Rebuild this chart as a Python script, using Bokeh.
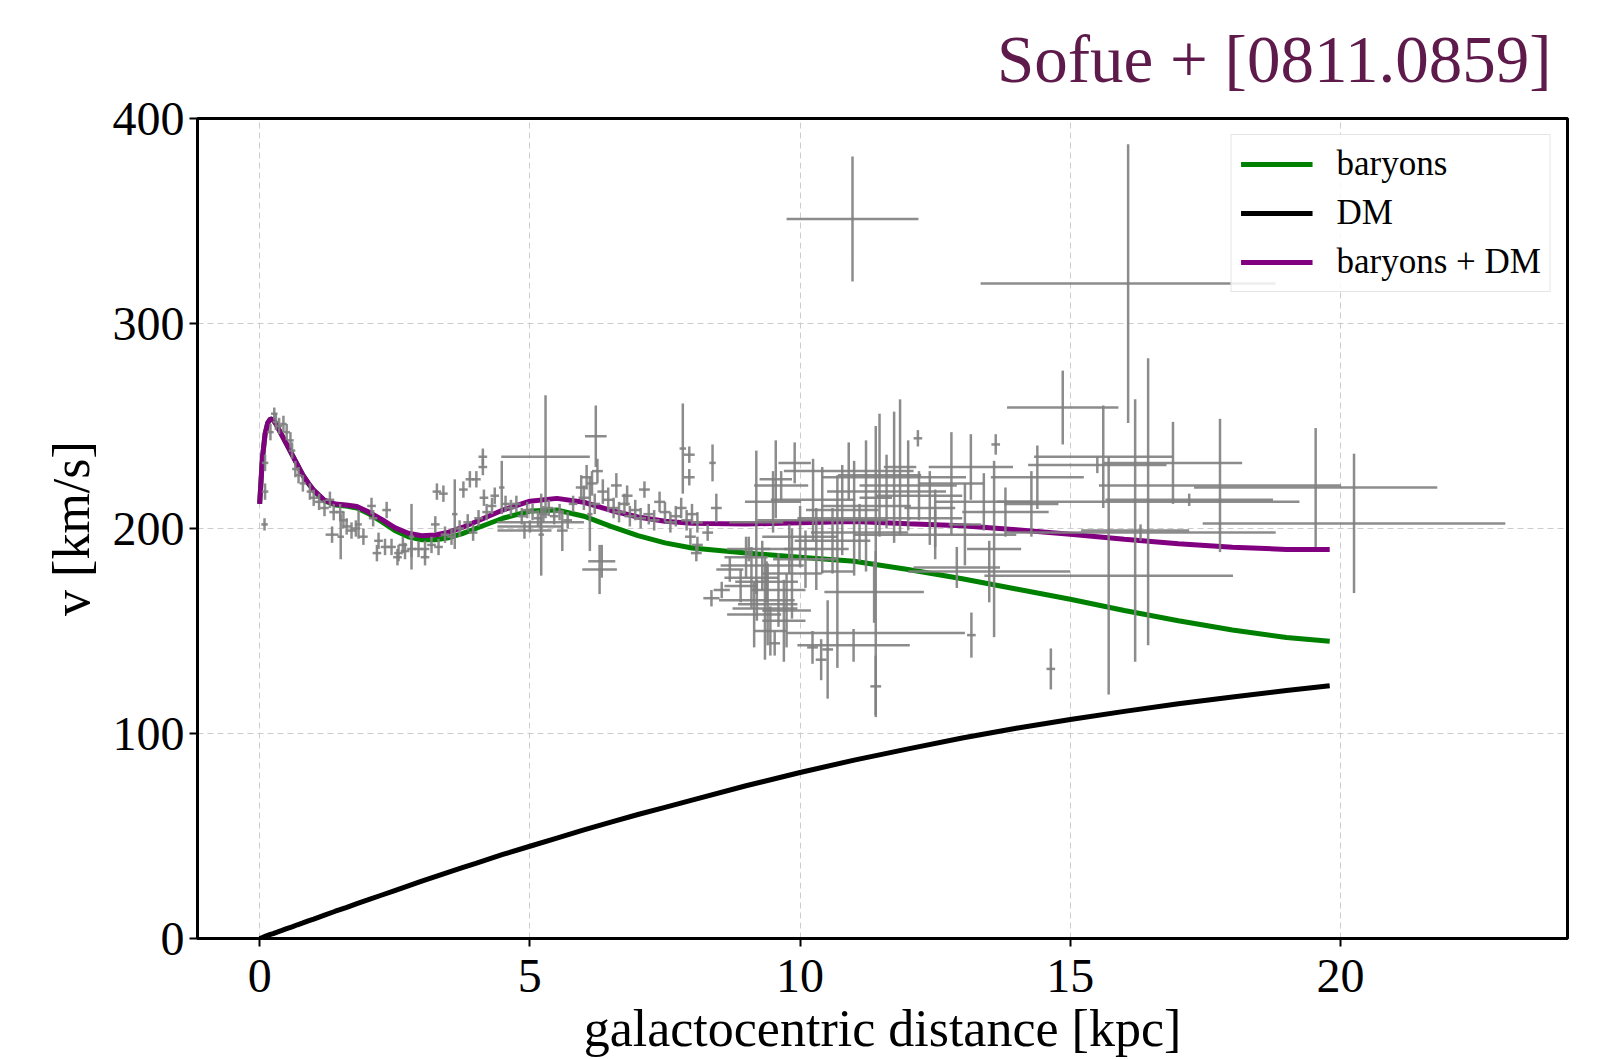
import numpy as np
from bokeh.plotting import figure
from bokeh.models import Range1d, Legend, LegendItem
from bokeh.embed import file_html
from bokeh.resources import INLINE

# ---------------- model curves ----------------
r_model = [0, 0.05, 0.1, 0.15, 0.2, 0.25, 0.3, 0.4, 0.5, 0.6, 0.7, 0.8, 0.9, 1.0,
           1.2, 1.4, 1.6, 1.8, 2.0, 2.25, 2.5, 2.75, 3.0, 3.25, 3.5, 3.75, 4.0,
           4.5, 5.0, 5.5, 6.0, 6.5, 7.0, 7.5, 8.0, 9, 10, 11, 12, 13, 14, 15,
           16, 17, 18, 19, 19.8]
v_baryons = [212, 234, 246, 251.5, 253.5, 253, 251, 246, 241, 236, 231, 226, 222, 218.5,
             213.5, 211.5, 211, 210, 207.5, 203.5, 199, 196, 194.5, 194.5, 195.5, 197.5, 200,
             205, 208.5, 209, 206, 201, 196.5, 193, 190.5, 188, 186, 184, 180, 175.5, 170.5, 165.5,
             160, 155, 150.5, 146.8, 145]
v_dm = [0, 0.5, 1, 1.5, 2, 2.4, 2.9, 3.8, 4.8, 5.7, 6.7, 7.6, 8.6, 9.5,
        11.4, 13.3, 15.1, 17, 18.8, 21.1, 23.4, 25.7, 28, 30.2, 32.4, 34.6, 36.7,
        41, 45, 49, 53, 56.8, 60.5, 64, 67.5, 74.5, 81, 87, 92.5, 97.8, 102.6, 106.8,
        110.8, 114.5, 117.8, 121, 123.3]
v_total = [212, 234, 246, 251.5, 253.5, 253, 251, 246, 241, 236, 231, 226, 222.2, 218.7,
           213.8, 211.9, 211.5, 210.7, 208.3, 204.6, 200.4, 197.7, 196.5, 196.8, 198.2, 200.5, 203.3,
           209, 213.3, 214.7, 212.8, 208.8, 205.6, 203.5, 202.5, 202.2, 202.8, 203.4, 202.3, 201.3, 199.4, 197.2,
           194.8, 192.6, 190.8, 189.8, 189.8]

# ---------------- observed rotation curve (Sofue +) ----------------
r_inner = [0.09, 0.10, 0.10, 0.20, 0.27, 0.30, 0.36, 0.44, 0.50, 0.57,
           0.60, 0.66, 0.72, 0.80, 0.93, 1.00, 1.10, 1.20, 1.30, 1.37,
           1.34, 1.49, 1.55, 1.61, 1.50, 1.70, 1.78, 1.83, 1.92, 2.07,
           2.35, 2.10, 2.20, 2.17, 2.32, 2.44, 2.57, 2.69, 2.81, 2.81,
           2.94, 3.06, 3.06, 3.18, 3.31, 3.28, 3.40, 3.25, 3.43, 3.61,
           3.77, 3.89, 4.01, 4.13, 4.13, 2.55, 2.65, 3.55, 3.70, 3.85,
           3.95, 4.05, 4.20, 4.30, 4.15, 4.35, 4.48, 4.55, 4.65, 4.75,
           4.85, 4.95, 5.05, 5.15, 5.25, 5.35, 5.45, 5.55, 5.70, 5.80,
           5.95, 6.05, 6.15, 6.25, 6.35, 6.45, 6.00, 6.20, 6.55, 6.65,
           6.75, 6.85, 6.95, 7.05, 7.12, 7.40, 7.20, 7.30, 7.50, 7.60,
           7.70, 7.80, 7.90, 8.00, 8.10, 7.83, 7.95, 7.95, 8.38, 8.45,
           8.29, 7.97, 8.10, 8.08, 8.36, 8.55, 5.00, 5.20, 4.90, 5.21,
           5.29, 6.22, 6.29, 6.33, 6.60, 6.80, 5.60, 6.11]
v_inner = [202, 218, 232, 247, 256, 252, 250, 251, 247, 243,
           238, 229, 226, 222, 218, 215, 213, 210, 214, 208,
           197, 208, 204, 201, 196, 199, 200, 202, 196, 211,
           209, 205, 194, 188, 191, 191, 188, 189, 196, 190,
           190, 190, 186, 192, 191, 218, 217, 202, 197, 207,
           219, 224, 224, 230, 235, 186, 192, 196, 200, 203,
           198, 205, 208, 211, 215, 216, 220, 212, 210, 212,
           206, 209, 208, 205, 207, 210, 206, 208, 204, 212,
           220, 225, 222, 228, 218, 214, 215, 212, 210, 208,
           212, 206, 209, 205, 219, 213, 207, 204, 208, 203,
           206, 210, 204, 207, 203, 239, 236, 225, 232, 210,
           198, 196, 192, 188, 166, 170, 201, 203, 199, 197,
           235, 245, 180, 184, 221, 216, 199, 207]
rerr_inner = [0.06, 0.06, 0.06, 0.06, 0.06, 0.06, 0.06, 0.06, 0.06, 0.06,
              0.06, 0.06, 0.06, 0.06, 0.06, 0.08, 0.08, 0.08, 0.08, 0.08,
              0.12, 0.08, 0.08, 0.08, 0.06, 0.08, 0.08, 0.06, 0.08, 0.08,
              0.08, 0.08, 0.08, 0.08, 0.08, 0.08, 0.08, 0.08, 0.05, 0.08,
              0.08, 0.08, 0.08, 0.08, 0.08, 0.08, 0.08, 0.08, 0.08, 0.05,
              0.08, 0.08, 0.08, 0.08, 0.08, 0.08, 0.08, 0.08, 0.08, 0.08,
              0.08, 0.08, 0.08, 0.08, 0.08, 0.08, 0.05, 0.08, 0.08, 0.08,
              0.08, 0.08, 0.08, 0.08, 0.08, 0.08, 0.08, 0.08, 0.08, 0.08,
              0.10, 0.10, 0.10, 0.10, 0.10, 0.10, 0.10, 0.10, 0.10, 0.10,
              0.10, 0.10, 0.10, 0.10, 0.10, 0.10, 0.10, 0.10, 0.10, 0.10,
              0.10, 0.10, 0.10, 0.10, 0.10, 0.06, 0.10, 0.10, 0.06, 0.10,
              0.10, 0.10, 0.10, 0.10, 0.15, 0.15, 0.60, 0.80, 0.50, 0.05,
              0.82, 0.20, 0.32, 0.25, 0.10, 0.10, 0.10, 0.05]
verr_inner = [3, 4, 4, 4, 3, 4, 4, 4, 4, 4,
              4, 4, 4, 4, 4, 4, 4, 4, 4, 4,
              4, 4, 4, 4, 11, 4, 4, 7, 4, 4,
              4, 4, 4, 4, 4, 4, 4, 4, 16, 4,
              4, 4, 4, 4, 4, 4, 4, 4, 4, 17,
              4, 4, 4, 4, 4, 4, 4, 4, 4, 4,
              4, 4, 4, 4, 4, 4, 13, 4, 4, 4,
              4, 4, 4, 4, 4, 4, 4, 4, 4, 4,
              6, 6, 6, 6, 6, 6, 6, 5, 5, 5,
              5, 5, 5, 5, 4, 5, 5, 5, 5, 5,
              5, 5, 5, 5, 5, 22, 4, 4, 9, 7,
              4, 4, 4, 4, 4, 4, 3, 3, 4, 20,
              30, 15, 12, 8, 6, 5, 10, 18]

r_outer = [9.19, 9.65, 9.55, 10.97, 16.07, 14.86, 16.90, 17.77, 19.54, 20.25,
           16.44, 16.20, 15.71, 15.61, 13.59, 14.28, 14.39, 12.18, 13.62, 13.17,
           14.64, 11.40, 11.40, 10.99, 10.39, 10.51, 9.53, 10.23, 13.16, 11.74,
           11.85, 11.47, 11.22, 11.00, 10.69, 10.41, 10.24, 9.50, 12.40, 10.78,
           12.50, 9.30, 9.38, 11.37, 9.20, 9.40, 9.35, 12.50, 13.50, 12.90,
           9.00, 9.10, 9.60, 9.70, 9.80, 10.00, 10.10, 9.45, 12.80, 13.40,
           13.80, 13.05, 17.20, 16.30, 15.50, 9.90, 11.40, 8.70, 8.90, 9.05,
           11.60, 12.00, 10.60, 11.10, 9.75, 12.20, 10.30, 9.15, 9.85, 10.90]
v_outer = [203, 221, 224, 351, 319.5, 259, 232, 221, 220, 202.5,
           213, 199, 177, 235, 190, 212, 225, 244, 241, 148,
           131.5, 123, 149, 143, 136, 141, 144, 142, 230, 225,
           230, 226, 211, 205, 179, 204, 214, 213, 210, 209,
           205, 182, 174, 169, 165, 163, 161, 197, 179, 181,
           186, 176, 170, 155, 190, 196, 185, 150, 222, 213,
           208, 202, 214, 198, 231, 232, 215, 180, 172, 190,
           218, 221, 194, 198, 160, 216, 190, 158, 178, 228]
rerr_outer = [0.50, 0.50, 0.30, 1.22, 2.73, 1.03, 1.28, 2.24, 2.25, 2.80,
              2.80, 1.00, 2.30, 1.28, 0.50, 0.50, 0.86, 0.08, 0.08, 0.08,
              0.08, 0.10, 1.65, 1.04, 0.10, 0.10, 0.10, 0.10, 0.78, 1.33,
              0.30, 0.77, 0.83, 1.05, 0.30, 1.20, 0.78, 0.52, 0.47, 0.67,
              0.50, 0.77, 0.58, 0.92, 0.70, 0.55, 0.60, 1.50, 1.50, 0.80,
              0.40, 0.50, 0.50, 0.40, 0.50, 0.70, 0.60, 0.30, 0.60, 0.90,
              0.80, 0.30, 1.55, 2.50, 1.28, 0.30, 0.30, 0.25, 0.30, 0.40,
              1.10, 0.90, 0.70, 0.90, 0.45, 0.80, 0.60, 0.50, 0.55, 1.20]
verr_outer = [35, 7, 19, 30.5, 68, 18, 20, 32.5, 29, 34,
              70, 64, 58, 25, 43, 16, 15.5, 4, 5, 11,
              10, 15, 40, 8, 10, 24, 6, 8, 16, 32,
              33, 30, 32, 28, 47, 26, 20, 15, 18, 22,
              14, 12, 10, 15, 10, 20, 25, 12, 15, 10,
              10, 15, 18, 20, 12, 15, 14, 12, 25, 14,
              12, 20, 3, 4, 4, 10, 35, 6, 8, 6,
              18, 22, 16, 14, 18, 12, 20, 16, 22, 14]

x_ticks = [0, 5, 10, 15, 20]
y_ticks = [0, 100, 200, 300, 400]
title_text = "Sofue + [0811.0859]"

assert len(r_inner) == len(v_inner) == len(rerr_inner) == len(verr_inner)
assert len(r_outer) == len(v_outer) == len(rerr_outer) == len(verr_outer)
assert len(r_model) == len(v_baryons) == len(v_dm) == len(v_total)

r_obs = np.array(r_inner + r_outer, dtype=float)
v_obs = np.array(v_inner + v_outer, dtype=float)
r_err = np.array(rerr_inner + rerr_outer, dtype=float)
v_err = np.array(verr_inner + verr_outer, dtype=float)

SERIF = "Liberation Serif"

p = figure(width=1590, height=1059,
           x_range=Range1d(-1.15, 24.2), y_range=Range1d(0, 400),
           output_backend="svg", toolbar_location=None, title=title_text)
p.min_border_left = 197
p.min_border_right = 23
p.min_border_top = 118
p.min_border_bottom = 121

p.title.align = "right"
p.title.vertical_align = "top"
p.title.text_font = SERIF
p.title.text_font_size = "67px"
p.title.text_font_style = "normal"
p.title.text_color = "#5e1a4a"
p.title.offset = 16
p.title.standoff = 42

# curves
l_bar = p.line(r_model, v_baryons, line_color="green", line_width=5)
l_dm = p.line(r_model, v_dm, line_color="black", line_width=5)
l_tot = p.line(r_model, v_total, line_color="purple", line_width=5)

# error bars
p.segment(x0=r_obs - r_err, y0=v_obs, x1=r_obs + r_err, y1=v_obs,
          line_color="gray", line_width=2.5, line_alpha=0.9)
p.segment(x0=r_obs, y0=v_obs - v_err, x1=r_obs, y1=v_obs + v_err,
          line_color="gray", line_width=2.5, line_alpha=0.9)

# axes
p.xaxis.ticker = x_ticks
p.yaxis.ticker = y_ticks
p.xaxis.axis_label = "galactocentric distance [kpc]"
p.yaxis.axis_label = "v [km/s]"
for ax in (p.xaxis, p.yaxis):
    ax.axis_label_text_font = SERIF
    ax.axis_label_text_font_size = "52px"
    ax.axis_label_text_font_style = "normal"
    ax.axis_label_text_color = "black"
    ax.major_label_text_font = SERIF
    ax.major_label_text_font_size = "48px"
    ax.major_label_text_color = "black"
    ax.axis_line_width = 3
    ax.major_tick_line_width = 2
    ax.major_tick_out = 8
    ax.major_tick_in = 0
    ax.minor_tick_line_color = None
p.xaxis.major_label_standoff = 13
p.xaxis.axis_label_standoff = 5
p.yaxis.axis_label_standoff = 10
p.outline_line_color = "black"
p.outline_line_width = 3

p.grid.grid_line_color = "#cccccc"
p.grid.grid_line_dash = "6 4"
p.grid.grid_line_width = 1
p.xgrid.ticker = x_ticks
p.ygrid.ticker = y_ticks

legend = Legend(items=[LegendItem(label="baryons", renderers=[l_bar]),
                       LegendItem(label="DM", renderers=[l_dm]),
                       LegendItem(label="baryons + DM", renderers=[l_tot])],
                location="top_right")
legend.label_text_font = SERIF
legend.label_text_font_size = "35px"
legend.label_text_color = "black"
legend.glyph_width = 72
legend.glyph_height = 20
legend.label_standoff = 24
legend.label_height = 38
legend.spacing = 9
legend.padding = 9
legend.margin = 16
legend.border_line_color = "#cccccc"
legend.border_line_width = 1.5
legend.background_fill_alpha = 0.85
p.add_layout(legend)

open("out.html", "w").write(file_html(p, INLINE))
